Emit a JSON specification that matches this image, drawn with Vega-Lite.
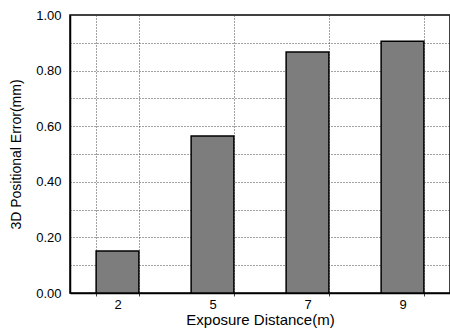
{
  "$schema": "https://vega.github.io/schema/vega-lite/v6.json",
  "width": 380,
  "height": 278,
  "autosize": {"type": "none"},
  "padding": {"left": 70, "top": 15, "right": 0, "bottom": 39},
  "background": "white",
  "config": {
    "view": {"stroke": "black", "strokeWidth": 1.5},
    "font": "Liberation Sans",
    "axis": {
      "labelFont": "Liberation Sans",
      "titleFont": "Liberation Sans",
      "labelColor": "black",
      "titleColor": "black",
      "labelFontSize": 13,
      "titleFontSize": 14,
      "titleFontWeight": "normal",
      "domainColor": "black",
      "domainWidth": 1.5,
      "gridColor": "#444",
      "gridDash": [1, 2],
      "gridWidth": 1
    }
  },
  "data": {
    "values": [
      {"distance": "2", "error": 0.151},
      {"distance": "5", "error": 0.565},
      {"distance": "7", "error": 0.867},
      {"distance": "9", "error": 0.906}
    ]
  },
  "mark": {"type": "bar", "fill": "#7d7d7d", "stroke": "black", "strokeWidth": 1.5},
  "encoding": {
    "x": {
      "field": "distance",
      "type": "ordinal",
      "sort": null,
      "scale": {"paddingInner": 0.55, "paddingOuter": 0.275},
      "axis": {
        "title": "Exposure Distance(m)",
        "titleFontSize": 15,
        "labelAngle": 0,
        "grid": true,
        "tickBand": "extent",
        "ticks": true,
        "tickSize": 3,
        "tickColor": "#444",
        "labelPadding": 2,
        "titlePadding": 1
      }
    },
    "y": {
      "field": "error",
      "type": "quantitative",
      "scale": {"domain": [0, 1], "nice": false},
      "axis": {
        "title": "3D Positional Error(mm)",
        "values": [0, 0.1, 0.2, 0.3, 0.4, 0.5, 0.6, 0.7, 0.8, 0.9, 1.0],
        "labelExpr": "round(datum.value*10)%2==0 ? format(datum.value,'.2f') : ''",
        "ticks": false,
        "labelPadding": 9,
        "titlePadding": 12,
        "grid": true
      }
    }
  }
}
